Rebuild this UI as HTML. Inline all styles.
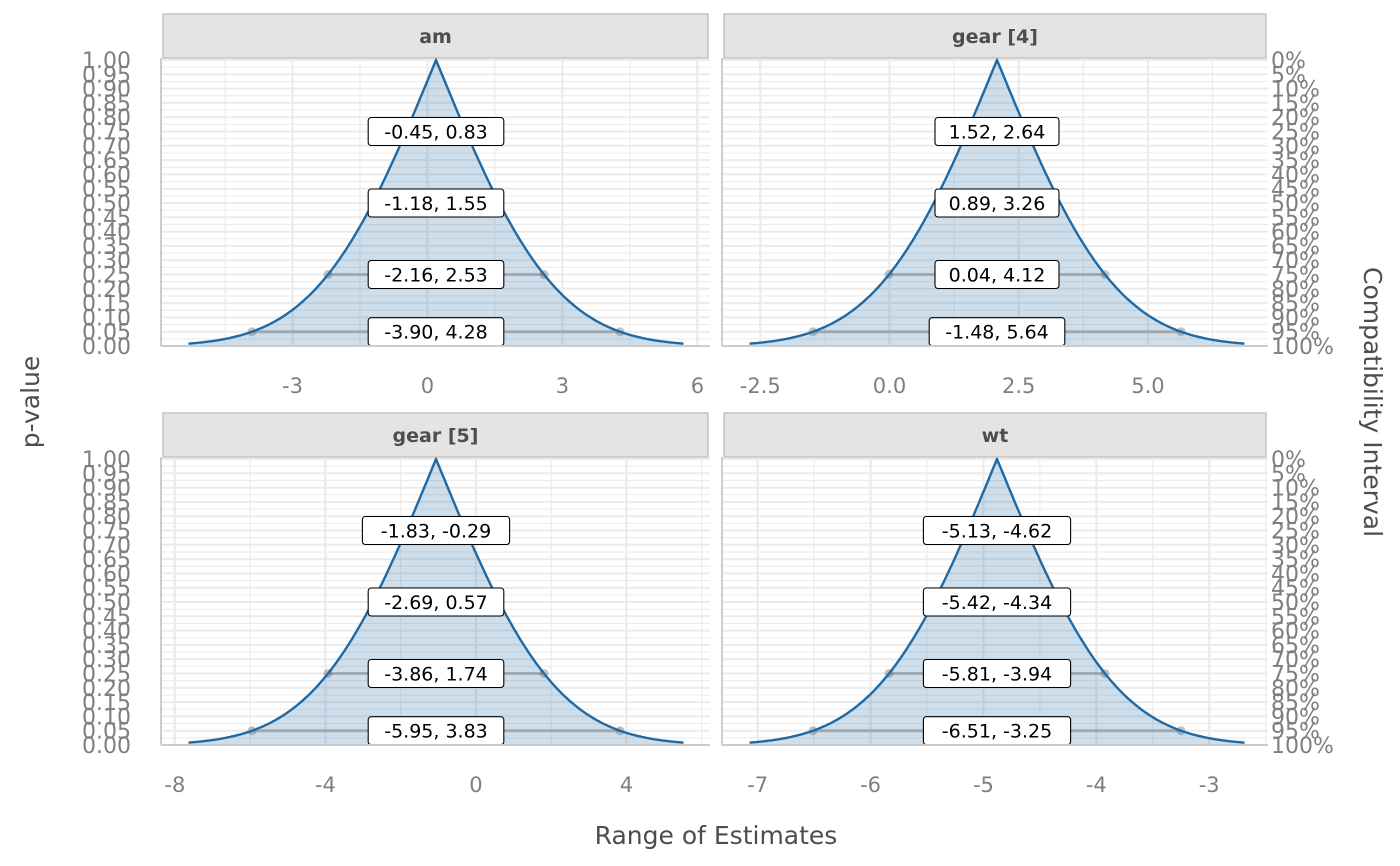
<!DOCTYPE html>
<html><head><meta charset="utf-8"><style>
html,body{margin:0;padding:0;background:#fff}
svg{display:block;font-family:"DejaVu Sans","Liberation Sans",sans-serif}
</style></head><body>
<svg id="s" width="1400" height="866" xmlns="http://www.w3.org/2000/svg"></svg>
<script>
const S=document.getElementById('s');let h='';
function Phi(z){const t=1/(1+0.2316419*Math.abs(z));const d=0.3989423*Math.exp(-z*z/2);let p=d*t*(0.3193815+t*(-0.3565638+t*(1.781478+t*(-1.821256+t*1.330274))));return z>0?1-p:p;}
const panels=[
 {x0:161,x1:710,y0:346,y1:60,cx:436,title:'am',est:0.19,lo:-3.90,hi:4.28,ticks:[-3,0,3,6],fmt:v=>String(v),step:3,labs:['-0.45, 0.83','-1.18, 1.55','-2.16, 2.53','-3.90, 4.28'],left:true},
 {x0:722,x1:1268,y0:346,y1:60,cx:997,title:'gear [4]',est:2.08,lo:-1.48,hi:5.64,ticks:[-2.5,0,2.5,5],fmt:v=>v.toFixed(1),step:2.5,labs:['1.52, 2.64','0.89, 3.26','0.04, 4.12','-1.48, 5.64'],left:false},
 {x0:161,x1:710,y0:745,y1:459,cx:436,title:'gear [5]',est:-1.06,lo:-5.95,hi:3.83,ticks:[-8,-4,0,4],fmt:v=>String(v),step:4,labs:['-1.83, -0.29','-2.69, 0.57','-3.86, 1.74','-5.95, 3.83'],left:true},
 {x0:722,x1:1268,y0:745,y1:459,cx:997,title:'wt',est:-4.88,lo:-6.51,hi:-3.25,ticks:[-7,-6,-5,-4,-3],fmt:v=>String(v),step:1,labs:['-5.13, -4.62','-5.42, -4.34','-5.81, -3.94','-6.51, -3.25'],left:false}
];
panels.forEach((P,i)=>{
 const s=368/(P.hi-P.lo);const X=v=>P.cx+(v-P.est)*s;const Y=p=>P.y0+(P.y1-P.y0)*p;
 h+=`<clipPath id="c${i}"><rect x="${P.x0}" y="${P.y1-2}" width="${P.x1-P.x0}" height="${P.y0-P.y1+2}"/></clipPath>`;
 h+=`<g clip-path="url(#c${i})">`;
 for(let k=0;k<=40;k++){const y=Y(k/40);h+=`<line x1="${P.x0}" x2="${P.x1}" y1="${y}" y2="${y}" stroke="#ebebeb" stroke-width="${k%2?1:2}"/>`;}
 for(let v=P.ticks[0]-P.step*2;v<=P.ticks[P.ticks.length-1]+P.step*2;v+=P.step/2){const x=X(v);const maj=Math.abs(v/P.step-Math.round(v/P.step))<1e-6;h+=`<line x1="${x}" x2="${x}" y1="${P.y1}" y2="${P.y0}" stroke="#ebebeb" stroke-width="${maj?2.2:1.1}"/>`;}
 const se=(P.hi-P.lo)/3.92;let pts=[];
 for(let k=0;k<=300;k++){const px=P.cx-247.5+495*k/300;const v=P.est+(px-P.cx)/s;const z=Math.abs(v-P.est)/se;pts.push([px,Y(2*(1-Phi(z)))]);}
 const d=pts.map((p,j)=>(j?'L':'M')+p[0].toFixed(1)+','+p[1].toFixed(1)).join('');
 h+=`<path d="${d}L${pts[pts.length-1][0]},${P.y0}L${pts[0][0]},${P.y0}Z" fill="rgba(31,106,165,0.22)"/>`;
 [[0.05,1.96],[0.25,1.1503]].forEach(([p,z])=>{const a=P.cx-z*se*s,b=P.cx+z*se*s,y=Y(p);
  h+=`<line x1="${a}" x2="${b}" y1="${y}" y2="${y}" stroke="rgba(120,120,120,0.45)" stroke-width="3"/><circle cx="${a}" cy="${y}" r="4.5" fill="rgba(120,120,120,0.45)"/><circle cx="${b}" cy="${y}" r="4.5" fill="rgba(120,120,120,0.45)"/>`;});
 h+=`<path d="${d}" fill="none" stroke="#1f6aa5" stroke-width="2.4"/>`;
 [0.75,0.5,0.25,0.05].forEach((p,j)=>{const y=Y(p);const t=P.labs[j];const w=t.length*11.6+8;
  h+=`<rect x="${P.cx-w/2}" y="${y-14}" width="${w}" height="28" rx="3" fill="#fff" stroke="#000" stroke-width="1.1"/><text x="${P.cx}" y="${y+7}" font-size="19" text-anchor="middle" fill="#000">${t}</text>`;});
 h+=`</g>`;
 h+=`<line x1="${P.x0}" x2="${P.x0}" y1="${P.y1-2}" y2="${P.y0}" stroke="#cccccc" stroke-width="2"/><line x1="${P.x0}" x2="${P.x1}" y1="${P.y0}" y2="${P.y0}" stroke="#cccccc" stroke-width="2"/>`;
 const sy=P.y1-46;
 h+=`<rect x="${P.x0+2}" y="${sy}" width="${P.x1-P.x0-4}" height="44" fill="#e4e4e4" stroke="#bdbdbd" stroke-width="1.3"/><text x="${(P.x0+P.x1)/2}" y="${sy+29}" font-size="19" font-weight="bold" text-anchor="middle" fill="#4d4d4d">${P.title}</text>`;
 P.ticks.forEach(v=>{h+=`<text x="${X(v)}" y="${P.y0+47}" font-size="21" text-anchor="middle" fill="#7f7f7f">${P.fmt(v)}</text>`;});
 for(let k=0;k<=20;k++){const y=Y(k/20)+8;
  if(P.left)h+=`<text x="131" y="${y}" font-size="22" text-anchor="end" fill="#7f7f7f">${(k/20).toFixed(2)}</text>`;
  else h+=`<text x="1271" y="${y}" font-size="22" fill="#7f7f7f">${100-k*5}%</text>`;}
});
h+=`<text x="716" y="844" font-size="25" text-anchor="middle" fill="#4d4d4d">Range of Estimates</text>`;
h+=`<text transform="translate(39,402) rotate(-90)" font-size="25" text-anchor="middle" fill="#4d4d4d">p-value</text>`;
h+=`<text transform="translate(1364,402) rotate(90)" font-size="25" text-anchor="middle" fill="#4d4d4d">Compatibility Interval</text>`;
S.innerHTML=h;
</script>
</body></html>
